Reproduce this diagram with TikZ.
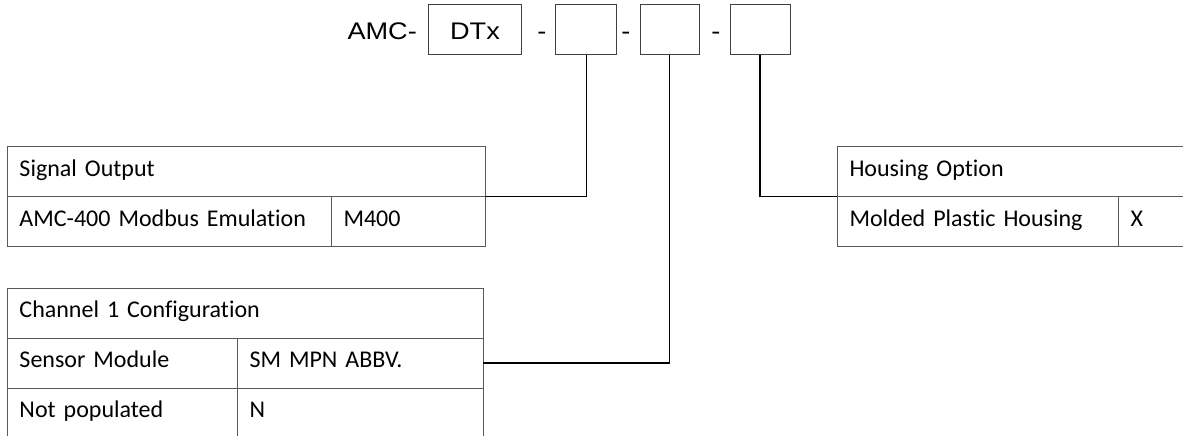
\documentclass[tikz,border=0pt]{standalone}
\usepackage{fontspec}
\setmainfont{Carlito}[Ligatures=NoCommon]
\newfontfamily\codefont[FakeStretch=1.13]{Liberation Sans}
\usepackage{tikz}

\tikzset{
	cell/.style={draw=black!65, line width=1pt, anchor=north west, outer sep=0pt,
		minimum height=50pt, text width=#1, align=left, inner xsep=12.5pt,
		text height=15pt, text depth=5.6pt, font=\fontsize{24}{28}\selectfont},
	codebox/.style={draw=black!75, line width=1pt, outer sep=0pt, minimum width=#1,
		minimum height=50pt, text height=18.6pt, text depth=0pt,
		font=\codefont\fontsize{24}{28}\selectfont},
	codetext/.style={inner sep=0pt, anchor=base, font=\codefont\fontsize{24}{28}\selectfont},
	link/.style={line width=1.6pt, black}
}

\begin{document}
\begin{tikzpicture}[x=1pt, y=-1pt]
			\useasboundingbox (0, 0) rectangle (1183, 436);

			\node[codetext, anchor=base east] (amc) at (417, 39.3) {AMC-};
			\node[codebox=93.4pt] (dtx) at (475, 30) {DTx};
			\node[codetext] (dasha) at (542, 39.3) {-};
			\node[codebox=60.7pt] (signalbox) at (586.3, 30) {};
			\node[codetext] (dashb) at (626, 39.3) {-};
			\node[codebox=59pt] (channelbox) at (669.5, 30) {};
			\node[codetext] (dashc) at (716, 39.3) {-};
			\node[codebox=60pt] (housingbox) at (760, 30) {};

			\node[cell=453pt] (sighead) at (7, 146.5) {Signal Output};
			\node[cell=299pt] (signame) at (sighead.south west) {AMC-400 Modbus Emulation};
			\node[cell=129pt] (sigcode) at (signame.north east) {M400};

			\node[cell=451pt] (chhead) at (7, 288) {Channel 1 Configuration};
			\node[cell=205pt] (chsensor) at (chhead.south west) {Sensor Module};
			\node[cell=221pt] (chsensorcode) at (chsensor.north east) {SM MPN ABBV.};
			\node[cell=205pt] (chnone) at (chsensor.south west) {Not populated};
			\node[cell=221pt] (chnonecode) at (chnone.north east) {N};

			\node[cell=375pt] (househead) at (837, 146.5) {Housing Option};
			\node[cell=256pt] (housename) at (househead.south west) {Molded Plastic Housing};
			\node[cell=95pt] (housecode) at (housename.north east) {X};

			\draw[link] (signalbox.south) |- (sighead.south east);
			\draw[link] (channelbox.south) |- (chsensorcode.east);
			\draw[link] (housingbox.south) |- (househead.south west);

		\end{tikzpicture}
\end{document}
